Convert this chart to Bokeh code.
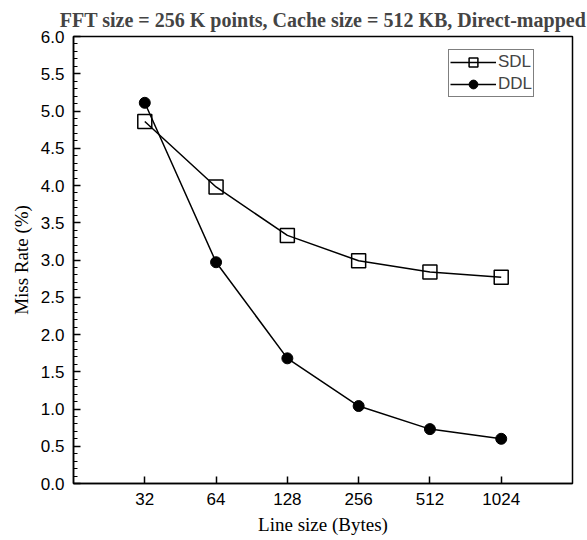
from bokeh.plotting import figure
from bokeh.models import Range1d, FixedTicker, NumeralTickFormatter, Legend, LegendItem
from bokeh.embed import file_html
from bokeh.resources import INLINE

line_sizes = [32, 64, 128, 256, 512, 1024]
sdl = [4.86, 3.98, 3.33, 2.99, 2.84, 2.77]
ddl = [5.11, 2.97, 1.68, 1.04, 0.73, 0.60]
y_ticks = [0.0, 0.5, 1.0, 1.5, 2.0, 2.5, 3.0, 3.5, 4.0, 4.5, 5.0, 5.5, 6.0]

p = figure(width=587, height=540, output_backend="svg", toolbar_location=None,
           x_axis_type="log", x_range=Range1d(16, 2048), y_range=Range1d(0, 6),
           min_border_left=73, min_border_right=15, min_border_top=36, min_border_bottom=57)

p.title.text = "FFT size = 256 K points, Cache size = 512 KB, Direct-mapped"
p.title.text_font = "Liberation Serif"
p.title.text_font_style = "bold"
p.title.text_font_size = "20px"
p.title.align = "center"
p.title.offset = 0
p.title.standoff = 12

p.grid.visible = False
p.outline_line_color = "black"
p.outline_line_width = 1.5
p.background_fill_color = "white"
p.border_fill_color = "white"

xa = p.xaxis[0]
xa.ticker = FixedTicker(ticks=line_sizes, minor_ticks=[])
xa.formatter = NumeralTickFormatter(format="0")
xa.axis_label = "Line size (Bytes)"
ya = p.yaxis[0]
ya.ticker = FixedTicker(ticks=y_ticks, minor_ticks=[i / 10 for i in range(61)])
ya.formatter = NumeralTickFormatter(format="0.0")
ya.axis_label = "Miss Rate (%)"

for ax in (xa, ya):
    ax.axis_line_color = "black"
    ax.axis_line_width = 1.5
    ax.major_tick_in = 7
    ax.major_tick_out = 0
    ax.minor_tick_in = 4
    ax.minor_tick_out = 0
    ax.major_tick_line_width = 1.5
    ax.minor_tick_line_width = 1.2
    ax.major_label_text_font = "Liberation Sans"
    ax.major_label_text_font_size = "17px"
    ax.major_label_text_color = "black"
    ax.major_label_standoff = 9
    ax.axis_label_text_font = "Liberation Serif"
    ax.axis_label_text_font_style = "normal"
    ax.axis_label_text_font_size = "19px"
    ax.axis_label_text_color = "black"
    ax.axis_label_standoff = 6

l1 = p.line(line_sizes, sdl, line_color="black", line_width=1.5)
s1 = p.scatter(line_sizes, sdl, marker="square", size=14, fill_alpha=0,
               line_color="black", line_width=1.5)
l2 = p.line(line_sizes, ddl, line_color="black", line_width=1.5)
s2 = p.scatter(line_sizes, ddl, marker="circle", size=11, fill_color="black",
               line_color="black")

legend = Legend(items=[LegendItem(label="SDL", renderers=[l1, s1]),
                       LegendItem(label="DDL", renderers=[l2, s2])],
                location=(375, 386))
legend.border_line_color = "black"
legend.border_line_width = 1.2
legend.padding = 1
legend.margin = 0
legend.spacing = 0
legend.glyph_width = 46
legend.glyph_height = 22
legend.label_standoff = 2
legend.label_text_font = "Liberation Sans"
legend.label_text_font_size = "17px"
legend.label_height = 22
legend.background_fill_alpha = 1
p.add_layout(legend)

open("out.html", "w").write(file_html(p, INLINE))
